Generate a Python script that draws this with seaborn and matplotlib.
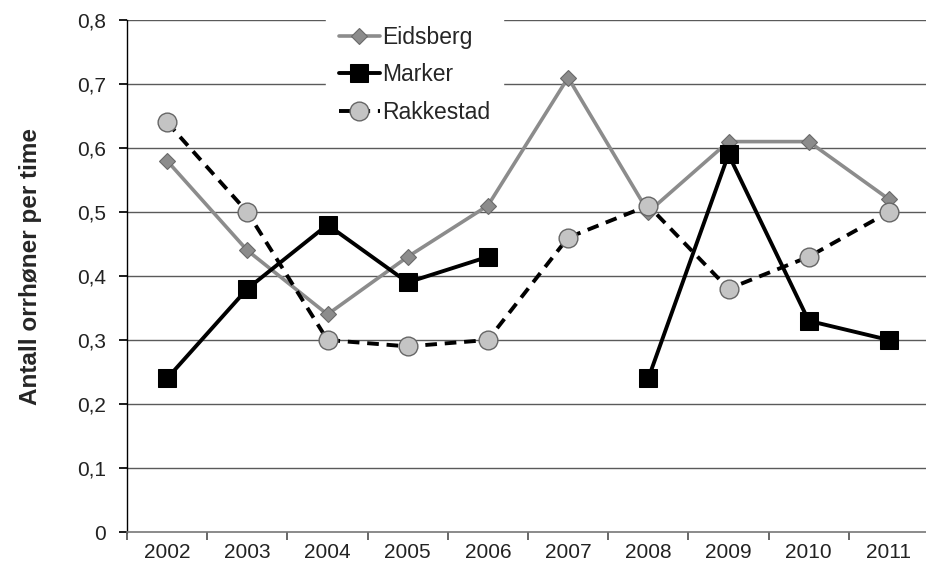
import numpy as np
import pandas as pd
import matplotlib
matplotlib.use("Agg")
import matplotlib.pyplot as plt
import seaborn as sns

years = ["2002", "2003", "2004", "2005", "2006", "2007", "2008", "2009", "2010", "2011"]
eidsberg = [0.58, 0.44, 0.34, 0.43, 0.51, 0.71, 0.50, 0.61, 0.61, 0.52]
marker = [0.24, 0.38, 0.48, 0.39, 0.43, np.nan, 0.24, 0.59, 0.33, 0.30]
rakkestad = [0.64, 0.50, 0.30, 0.29, 0.30, 0.46, 0.51, 0.38, 0.43, 0.50]
yticks = [0, 0.1, 0.2, 0.3, 0.4, 0.5, 0.6, 0.7, 0.8]
ytick_labels = ["0", "0,1", "0,2", "0,3", "0,4", "0,5", "0,6", "0,7", "0,8"]

sns.set_theme(style="white")
plt.rcParams['font.family'] = ['Liberation Sans', 'DejaVu Sans']

fig = plt.figure(figsize=(9.26, 5.71), dpi=100)
ax = fig.add_axes([127/926, 39/571, 802/926, 512/571])

pos = np.arange(len(years))

for v in yticks[1:]:
    ax.axhline(v, color="#5a5a5a", lw=1.0, zorder=0)

df_e = pd.DataFrame({"x": pos, "y": eidsberg})
sns.lineplot(data=df_e, x="x", y="y", ax=ax, color="#8c8c8c", lw=2.6,
             marker="D", markersize=8.5, markerfacecolor="#8c8c8c",
             markeredgecolor="#6a6a6a", markeredgewidth=0.8, label="Eidsberg", zorder=3)

df_m = pd.DataFrame({"x": pos, "y": marker})
df_m["seg"] = df_m["y"].isna().cumsum()
df_m = df_m.dropna()
first = True
for seg, g in df_m.groupby("seg"):
    sns.lineplot(data=g, x="x", y="y", ax=ax, color="black", lw=2.8,
                 marker="s", markersize=12.5, markerfacecolor="black",
                 markeredgecolor="black", label="Marker" if first else None, zorder=4)
    first = False

df_r = pd.DataFrame({"x": pos, "y": rakkestad})
sns.lineplot(data=df_r, x="x", y="y", ax=ax, color="black", lw=2.8,
             linestyle=(0, (3, 2)), marker="o", markersize=13.5,
             markerfacecolor="#c4c4c4", markeredgecolor="#666666",
             markeredgewidth=1.0, label="Rakkestad", zorder=5)

ax.set_xlim(-0.5, 9.5)
ax.set_ylim(0, 0.8)
ax.set_yticks(yticks)
ax.set_yticklabels(ytick_labels, fontsize=15, color="#222222")
ax.set_xticks(np.arange(-0.5, 9.6, 1.0))
ax.set_xticklabels([])
ax.set_xticks(pos, minor=True)
ax.set_xticklabels(years, minor=True, fontsize=15, color="#222222")
ax.tick_params(axis="x", which="major", direction="out", length=6, color="#555555", bottom=True)
ax.tick_params(axis="x", which="minor", length=0, pad=8, bottom=True)
ax.tick_params(axis="y", direction="out", length=6, color="black", left=True, pad=9)

for s in ["top", "right"]:
    ax.spines[s].set_visible(False)
ax.spines["left"].set_color("black")
ax.spines["left"].set_linewidth(1.0)
ax.spines["bottom"].set_color("#777777")
ax.spines["bottom"].set_linewidth(1.2)

ax.set_xlabel("")
ax.set_ylabel("Antall orrhøner per time", fontsize=17.5, fontweight="bold")
ax.yaxis.set_label_coords(-0.106, 0.518)

leg = ax.legend(loc="upper left", bbox_to_anchor=(0.234, 1.035), frameon=True,
                fontsize=16.5, handlelength=1.8, handletextpad=0.1, labelspacing=0.62,
                borderpad=0.55, fancybox=False)
leg.get_frame().set_facecolor("white")
leg.get_frame().set_edgecolor("white")
leg.get_frame().set_alpha(1.0)
leg.set_zorder(10)

fig.savefig("out.png", dpi=100)
